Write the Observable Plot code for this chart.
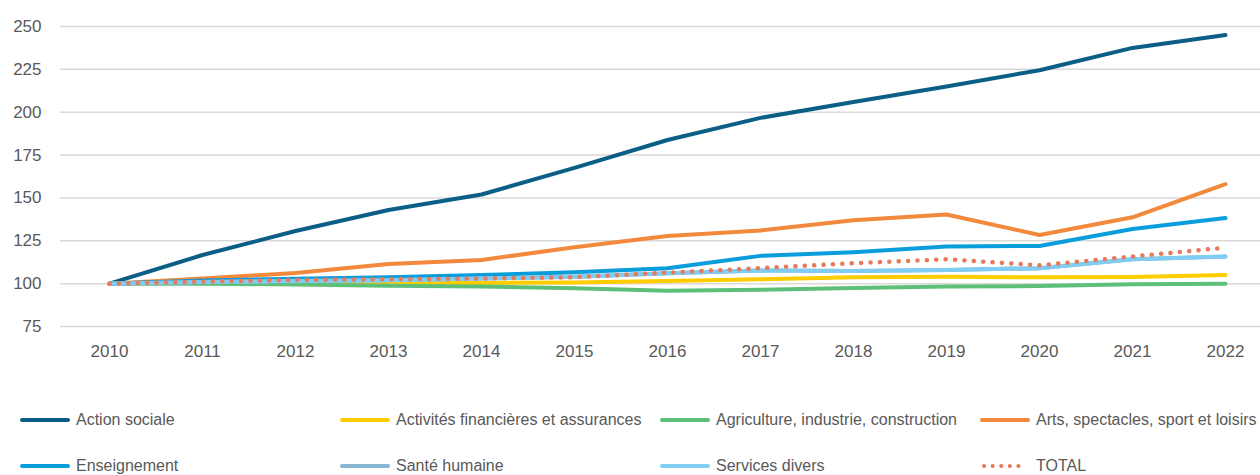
<!DOCTYPE html>
<html>
<head>
<meta charset="utf-8">
<script src="https://cdn.jsdelivr.net/npm/d3@7"></script>
<script src="https://cdn.jsdelivr.net/npm/@observablehq/plot@0.6"></script>
<style>
  html, body { margin: 0; padding: 0; background: #fff; }
  body { width: 1260px; height: 475px; overflow: hidden; font-family: "Liberation Sans", Arial, sans-serif; color: #595959; }
  #legend { display: grid; grid-template-columns: 320px 320px 320px 300px; row-gap: 26px; padding-top: 35px; padding-left: 20px; }
  .item { display: flex; align-items: center; font-size: 16px; white-space: nowrap; height: 20px; }
  .sw { width: 50px; height: 8px; margin-right: 6px; flex: none; }
</style>
</head>
<body>
<div id="chart"></div>
<div id="legend"></div>
<script>
const years = ["2010","2011","2012","2013","2014","2015","2016","2017","2018","2019","2020","2021","2022"];
const yTicks = [75, 100, 125, 150, 175, 200, 225, 250];

const actionSociale   = [100, 116.7, 130.7, 143, 152, 167.5, 183.8, 196.7, 206, 215, 224.5, 237.5, 245];
const activitesFin    = [100, 100.5, 100.5, 100.3, 100.4, 100.6, 101.6, 102.5, 103.7, 104, 103.7, 103.9, 105];
const agriculture     = [100, 100, 99.5, 98.8, 98.3, 97.3, 95.9, 96.4, 97.5, 98.3, 98.6, 99.6, 100];
const arts            = [100, 103, 106.2, 111.5, 113.8, 121.2, 127.8, 131, 137, 140.3, 128.4, 138.7, 158];
const enseignement    = [100, 101.8, 102.8, 103.8, 105, 106.6, 109, 116.2, 118.3, 121.6, 122, 131.9, 138.3];
const santeHumaine    = [100, 101, 101.5, 102, 103, 104, 106, 107.6, 107.4, 108, 109, 114.2, 115.8];
const servicesDivers  = [100, 101, 101.5, 102, 103, 104, 106, 107.6, 107.4, 108, 109, 114.2, 115.8];
const total           = [100, 101.2, 102.2, 102.6, 103, 103.7, 106.4, 109, 111.9, 114.2, 110.7, 115.8, 121];

const seriesNames = ["Action sociale", "Activités financières et assurances", "Agriculture, industrie, construction", "Arts, spectacles, sport et loisirs", "Enseignement", "Santé humaine", "Services divers", "TOTAL"];
const seriesValues = [actionSociale, activitesFin, agriculture, arts, enseignement, santeHumaine, servicesDivers, total];
const seriesColors = ["#0B5E86", "#FFCC00", "#5DBF78", "#F2893D", "#0A9DDC", "#88B6D2", "#7FCDF3", "#E8795B"];

const rows = [];
seriesNames.forEach((name, i) => {
  years.forEach((yr, j) => rows.push({series: name, year: yr, value: seriesValues[i][j]}));
});

const solid = seriesNames.filter(n => n !== "TOTAL");

const chart = Plot.plot({
  width: 1260,
  height: 375,
  marginLeft: 60,
  marginRight: 0,
  marginTop: 20,
  marginBottom: 40,
  style: { fontFamily: '"Liberation Sans", Arial, sans-serif', fontSize: "17px", color: "#595959", background: "#fff" },
  x: { type: "point", domain: years, range: [107, 1227], padding: 0, label: null },
  y: { domain: [75, 250], range: [326, 26], label: null },
  color: { domain: seriesNames, range: seriesColors },
  marks: [
    Plot.ruleY(yTicks, { stroke: "#d9d9d9", strokeWidth: 1.5 }),
    Plot.axisY(yTicks, { tickSize: 0, tickPadding: 19, label: null, fill: "#595959" }),
    Plot.axisX(years, { tickSize: 0, tickPadding: 9, label: null, fill: "#595959" }),
    ...solid.map(n => Plot.line(rows.filter(d => d.series === n), {
      x: "year", y: "value", stroke: "series", strokeWidth: 4, strokeLinecap: "round", strokeLinejoin: "round"
    })),
    Plot.line(rows.filter(d => d.series === "TOTAL"), {
      x: "year", y: "value", stroke: "series", strokeWidth: 4.5, strokeLinecap: "round", strokeDasharray: "0.1 9.3"
    })
  ]
});
document.getElementById("chart").appendChild(chart);

const legend = document.getElementById("legend");
seriesNames.forEach((n, i) => {
  const item = document.createElement("div");
  item.className = "item";
  const sw = document.createElementNS("http://www.w3.org/2000/svg", "svg");
  sw.setAttribute("class", "sw");
  sw.setAttribute("width", 50); sw.setAttribute("height", 8);
  const ln = document.createElementNS("http://www.w3.org/2000/svg", "line");
  ln.setAttribute("x1", 2); ln.setAttribute("x2", 48); ln.setAttribute("y1", 4); ln.setAttribute("y2", 4);
  ln.setAttribute("stroke", seriesColors[i]); ln.setAttribute("stroke-width", 4); ln.setAttribute("stroke-linecap", "round");
  if (n === "TOTAL") { ln.setAttribute("stroke-dasharray", "0.1 8.5"); ln.setAttribute("x1", 4); ln.setAttribute("x2", 47); }
  sw.appendChild(ln);
  item.appendChild(sw);
  const t = document.createElement("span");
  t.textContent = n;
  item.appendChild(t);
  legend.appendChild(item);
});
</script>
</body>
</html>
